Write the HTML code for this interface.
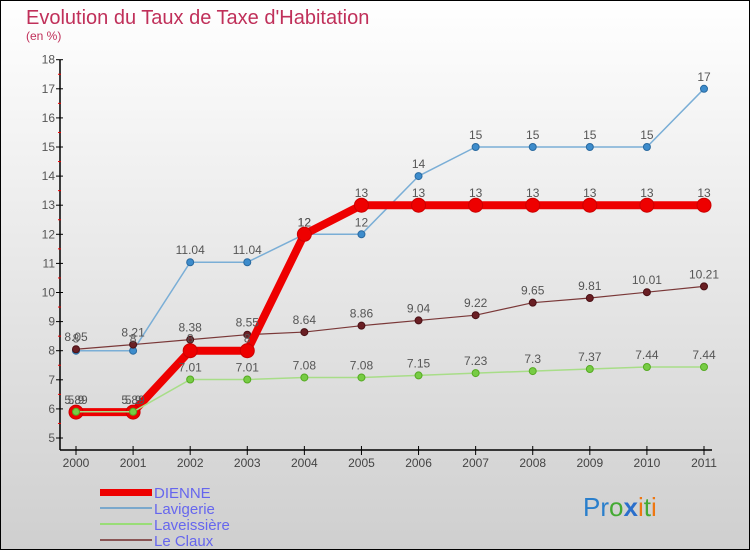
<!DOCTYPE html>
<html><head><meta charset="utf-8"><style>
html,body{margin:0;padding:0;}
body{width:750px;height:550px;overflow:hidden;font-family:"Liberation Sans","DejaVu Sans",sans-serif;}
</style></head><body>
<svg id="c" width="750" height="550" xmlns="http://www.w3.org/2000/svg" font-family="Liberation Sans, DejaVu Sans, sans-serif">
<defs><linearGradient id="bg" x1="0" y1="0" x2="0" y2="1"><stop offset="0" stop-color="#ffffff"/><stop offset="1" stop-color="#cfcfcf"/></linearGradient></defs>
<rect x="0.5" y="0.5" width="749" height="549" fill="url(#bg)" stroke="#000"/>
<text x="26" y="24" font-size="20" fill="#c0305a">Evolution du Taux de Taxe d'Habitation</text>
<text x="26" y="40" font-size="12" fill="#c0305a">(en %)</text>
<g id="axes"></g><g id="series"></g><g id="labels"></g>
<g>
<rect x="100" y="489" width="52" height="7" fill="#ee0000"/>
<text x="154" y="498" font-size="15" fill="#6666ee">DIENNE</text>
<line x1="100" y1="508" x2="152" y2="508" stroke="#7aa8cc" stroke-width="2"/>
<text x="154" y="514" font-size="15" fill="#6666ee">Lavigerie</text>
<line x1="100" y1="524" x2="152" y2="524" stroke="#99dd77" stroke-width="2"/>
<text x="154" y="530" font-size="15" fill="#6666ee">Laveissière</text>
<line x1="100" y1="540" x2="152" y2="540" stroke="#8a5555" stroke-width="2"/>
<text x="154" y="546" font-size="15" fill="#6666ee">Le Claux</text>
</g>
<text x="583" y="516" font-size="26"><tspan fill="#2a7fcc">Pr</tspan><tspan fill="#44aa33">o</tspan><tspan fill="#2a6fcc" font-weight="bold">x</tspan><tspan fill="#ee7711">i</tspan><tspan fill="#44aa33">t</tspan><tspan fill="#ee7711">i</tspan></text>
</svg>
<script>
const years=[2000,2001,2002,2003,2004,2005,2006,2007,2008,2009,2010,2011];
const dienne=[5.89,5.89,8,8,12,13,13,13,13,13,13,13];
const lavigerie=[8,8,11.04,11.04,12,12,14,15,15,15,15,17];
const laveissiere=[5.9,5.9,7.01,7.01,7.08,7.08,7.15,7.23,7.3,7.37,7.44,7.44];
const leClaux=[8.05,8.21,8.38,8.55,8.64,8.86,9.04,9.22,9.65,9.81,10.01,10.21];
const yTicks=[5,6,7,8,9,10,11,12,13,14,15,16,17,18];
const NS="http://www.w3.org/2000/svg";
function X(i){return 76+i*(704-76)/(years.length-1);}
function Y(v){return 438-(v-5)*29.1;}
function mk(t,a,p){const e=document.createElementNS(NS,t);for(const k in a)e.setAttribute(k,a[k]);p.appendChild(e);return e;}
const ax=document.getElementById('axes'),se=document.getElementById('series'),lb=document.getElementById('labels');
let l=mk('line',{x1:60,y1:Y(18),x2:60,y2:450,stroke:'#000','stroke-width':1.5},ax);


l=mk('line',{x1:60,y1:450,x2:712,y2:450,stroke:'#000','stroke-width':1.5},ax);


yTicks.forEach(v=>{
 mk('line',{x1:56,y1:Y(v),x2:63,y2:Y(v),stroke:'#000'},ax);
 if(v<18)mk('line',{x1:58,y1:Y(v+0.5),x2:61,y2:Y(v+0.5),stroke:'#e00'},ax);
 const t=mk('text',{x:55,y:Y(v)+4,'font-size':12,fill:'#555','text-anchor':'end'},ax);t.textContent=v;
 
 
});
years.forEach((y,i)=>{
 mk('line',{x1:X(i),y1:446,x2:X(i),y2:455,stroke:'#000'},ax);
 const t=mk('text',{x:X(i),y:467,'font-size':12,fill:'#444','text-anchor':'middle'},ax);t.textContent=y;
 
 
});
function series(data,name,color,w,r,dot,ring){
 const pl=mk('polyline',{points:data.map((v,i)=>X(i)+','+Y(v)).join(' '),fill:'none',stroke:color,'stroke-width':w,'stroke-linejoin':'round'},se);
 
 
 data.forEach((v,i)=>{
  const c=mk('circle',{cx:X(i),cy:Y(v),r:r,fill:dot,stroke:ring,'stroke-width':1},se);
  
  
  const t=mk('text',{x:X(i),y:Y(v)-8,'font-size':12,fill:'#555','text-anchor':'middle'},lb);
  t.textContent=v;
  
  
 });
}
series(lavigerie,'lavigerie','#7aaed6',1.5,3.5,'#3d8ccc','#2a6aa0');
series(leClaux,'le-claux','#7a3838',1.2,3.5,'#6a1f24','#4a1015');
series(dienne,'dienne','#ee0000',8,7,'#ee0000','#cc0000');
series(laveissiere,'laveissiere','#a8dd88',1.5,3.5,'#77cc44','#55aa22');
</script>
</body></html>
